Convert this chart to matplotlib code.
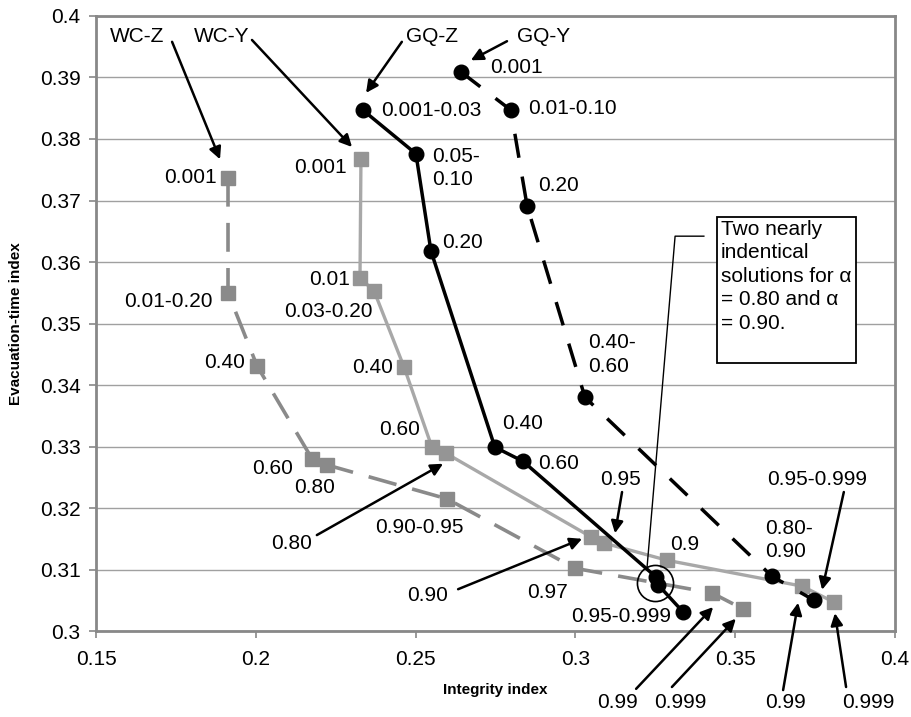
import matplotlib
matplotlib.use("Agg")
from matplotlib import pyplot as plt
from matplotlib.patches import Rectangle

plt.rcParams['font.family'] = ['Liberation Sans', 'DejaVu Sans']

# integrity index (x) and evacuation-time index (y) per solution
wcz_x = [0.1913, 0.1913, 0.2004, 0.2176, 0.2223, 0.2598, 0.2999, 0.3427, 0.3524]
wcz_y = [0.3737, 0.3550, 0.3431, 0.3280, 0.3270, 0.3215, 0.3102, 0.3062, 0.3036]

wcy_x = [0.2329, 0.2326, 0.2370, 0.2464, 0.2551, 0.2595, 0.3049, 0.3090, 0.3287, 0.3709, 0.3809]
wcy_y = [0.3767, 0.3574, 0.3553, 0.3429, 0.3299, 0.3289, 0.3153, 0.3143, 0.3115, 0.3073, 0.3047]

gqz_x = [0.2335, 0.2501, 0.2548, 0.2748, 0.2836, 0.3252, 0.3259, 0.3337]
gqz_y = [0.3847, 0.3776, 0.3618, 0.3299, 0.3276, 0.3088, 0.3075, 0.3031]

gqy_x = [0.2642, 0.2798, 0.2849, 0.3030, 0.3615, 0.3747]
gqy_y = [0.3909, 0.3847, 0.3691, 0.3380, 0.3089, 0.3050]

xticks = [0.15, 0.2, 0.25, 0.3, 0.35, 0.4]
yticks = [0.3, 0.31, 0.32, 0.33, 0.34, 0.35, 0.36, 0.37, 0.38, 0.39, 0.4]

fig = plt.figure(figsize=(9.11, 7.17), dpi=100)
ax = fig.add_axes([0.1054, 0.1199, 0.877, 0.8578])

ax.plot(wcz_x, wcz_y, color='#8a8a8a', lw=2.6, dashes=(8, 4.5), marker='s', ms=9.5,
        mfc='#8a8a8a', mec='#8a8a8a', zorder=3)
ax.plot(wcy_x, wcy_y, color='#a8a8a8', lw=2.4, marker='s', ms=9.5,
        mfc='#959595', mec='#959595', zorder=3)
ax.plot(gqz_x, gqz_y, color='black', lw=2.5, marker='o', ms=10.5, zorder=4)
ax.plot(gqy_x, gqy_y, color='black', lw=2.5, dashes=(7, 5.5), marker='o', ms=10.5, zorder=4)

ax.set_xlim(0.15, 0.4)
ax.set_ylim(0.3, 0.4)
ax.set_xticks(xticks)
ax.set_xticklabels([str(t) for t in xticks])
ax.set_yticks(yticks)
ax.set_yticklabels([str(t) for t in yticks])
ax.tick_params(labelsize=15, length=5, width=1.2, color='#888888', pad=6)
ax.tick_params(axis='x', pad=9)
ax.grid(axis='y', color='#a0a0a0', lw=1)
ax.set_axisbelow(True)
for s in ax.spines.values():
    s.set_color('#888888')
    s.set_linewidth(2)

ax.set_xlabel('Integrity index', fontsize=11, fontweight='bold', labelpad=10)
ax.set_ylabel('Evacuation-time index', fontsize=11, fontweight='bold', labelpad=12)

fs = 15
# point labels
labels = [
    ('0.001', 0.1879, 0.3738, 'right'), ('0.01-0.20', 0.1866, 0.3535, 'right'),
    ('0.40', 0.1966, 0.3437, 'right'), ('0.60', 0.2116, 0.3265, 'right'),
    ('0.80', 0.2185, 0.3233, 'center'), ('0.90-0.95', 0.2511, 0.3169, 'center'),
    ('0.97', 0.2914, 0.3063, 'center'),
    ('0.001', 0.2285, 0.3753, 'right'), ('0.01', 0.2295, 0.3571, 'right'),
    ('0.03-0.20', 0.2364, 0.3520, 'right'), ('0.40', 0.2429, 0.3428, 'right'),
    ('0.60', 0.2514, 0.3327, 'right'), ('0.9', 0.3296, 0.3141, 'left'),
    ('0.001-0.03', 0.2392, 0.3847, 'left'), ('0.05-\n0.10', 0.2551, 0.3753, 'left'),
    ('0.20', 0.2583, 0.3631, 'left'), ('0.40', 0.2770, 0.3338, 'left'),
    ('0.60', 0.2883, 0.3273, 'left'), ('0.95-0.999', 0.3143, 0.3023, 'center'),
    ('0.001', 0.2733, 0.3917, 'left'), ('0.01-0.10', 0.2852, 0.3849, 'left'),
    ('0.20', 0.2883, 0.3725, 'left'), ('0.40-\n0.60', 0.3039, 0.3450, 'left'),
    ('0.80-\n0.90', 0.3593, 0.3148, 'left'),
]
for t, x, y, ha in labels:
    ax.text(x, y, t, fontsize=fs, ha=ha, va='center', linespacing=1.3, zorder=6)

# arrows: text, text pos, arrow tail, arrow head
arrows = [
    ('WC-Z', (0.1628, 0.3967), (0.1738, 0.3958), (0.1888, 0.3767)),
    ('WC-Y', (0.1894, 0.3967), (0.1988, 0.3961), (0.2301, 0.3787)),
    ('GQ-Z', (0.2551, 0.3966), (0.2457, 0.3958), (0.2345, 0.3875)),
    ('GQ-Y', (0.2899, 0.3967), (0.2786, 0.3959), (0.2673, 0.3928)),
    ('0.80', (0.2113, 0.3143), (0.2191, 0.3156), (0.2586, 0.3272)),
    ('0.90', (0.2539, 0.3057), (0.2633, 0.3068), (0.3021, 0.3150)),
    ('0.95', (0.3140, 0.3246), (0.3146, 0.3226), (0.3124, 0.3159)),
    ('0.99', (0.3133, 0.2883), (0.3190, 0.2906), (0.3431, 0.3039)),
    ('0.999', (0.3327, 0.2883), (0.3302, 0.2909), (0.3502, 0.3020)),
    ('0.99', (0.3656, 0.2883), (0.3650, 0.2904), (0.3697, 0.3046)),
    ('0.999', (0.3916, 0.2883), (0.3847, 0.2909), (0.3812, 0.3029)),
    ('0.95-0.999', (0.3756, 0.3246), (0.3840, 0.3226), (0.3772, 0.3067)),
]
for t, tp, tail, head in arrows:
    ax.text(tp[0], tp[1], t, fontsize=fs, ha='center', va='center', clip_on=False, zorder=6)
    ax.annotate('', xy=head, xytext=tail, annotation_clip=False,
                arrowprops=dict(arrowstyle='-|>', color='black', lw=1.8,
                                mutation_scale=18, shrinkA=0, shrinkB=0), zorder=6)

# callout box and circle
ax.add_patch(Rectangle((0.3443, 0.3436), 0.0435, 0.0237, fc='white', ec='black', lw=1.3, zorder=6))
ax.text(0.3456, 0.3669, 'Two nearly\nindentical\nsolutions for α\n= 0.80 and α\n= 0.90.',
        fontsize=fs, ha='left', va='top', linespacing=1.3, zorder=7)
ax.plot([0.3402, 0.3312, 0.3224], [0.3642, 0.3642, 0.3102], color='black', lw=1, zorder=6)
ax.plot([0.3249], [0.3078], marker='o', ms=26, mfc='none', mec='black', mew=1.2, zorder=6)

fig.savefig('out.png', dpi=100)
